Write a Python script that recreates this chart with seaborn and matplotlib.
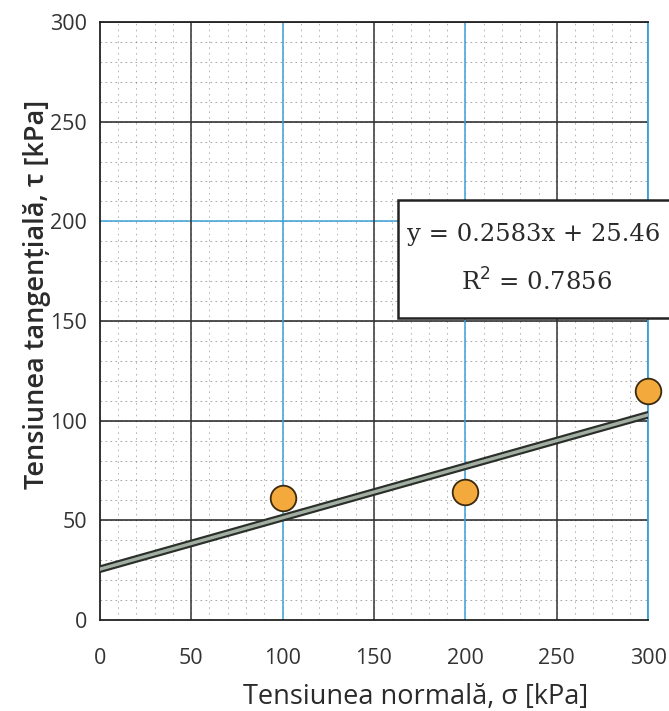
import numpy as np
import pandas as pd
import matplotlib
matplotlib.use("Agg")
import matplotlib.pyplot as plt
import matplotlib.patheffects as pe
from matplotlib.patches import Rectangle
import seaborn as sns

# ---- data ----
sigma = [100, 200, 300]          # normal stress [kPa]
tau = [61, 64, 115]              # shear stress [kPa]
slope = 0.2583
intercept = 25.46
r2 = 0.7856
x_ticks = [0, 50, 100, 150, 200, 250, 300]
y_ticks = [0, 50, 100, 150, 200, 250, 300]

sns.set_theme(style="white")
plt.rcParams['font.family'] = ['Open Sans', 'DejaVu Sans']

fig = plt.figure(figsize=(6.69, 7.11), dpi=100)
ax = fig.add_axes([0.149, 0.128, 0.82, 0.841])

# minor dotted grid (graph paper)
for v in np.arange(10, 300, 10):
    ax.axhline(v, color='#444444', lw=0.6, ls=(0, (2, 4)), alpha=0.55, zorder=0)
    ax.axvline(v, color='#444444', lw=0.6, ls=(0, (2, 5)), alpha=0.45, zorder=0)

# major grid
for v in y_ticks[1:]:
    c = '#3a9fd6' if v == 200 else '#222222'
    ax.axhline(v, color=c, lw=1.1, zorder=1)
for v in x_ticks[1:]:
    c = '#3a9fd6' if v in (100, 200, 300) else '#333333'
    ax.axvline(v, color=c, lw=1.1, zorder=1)

# trend line from equation
x_line = np.array([0, max(sigma)])
line_df = pd.DataFrame({'x': x_line, 'y': slope * x_line + intercept})
sns.lineplot(data=line_df, x='x', y='y', ax=ax, color='#a3aea3', lw=2.4, zorder=3,
             path_effects=[pe.Stroke(linewidth=5.5, foreground='#2a2f2a'), pe.Normal()])

# points
pts = pd.DataFrame({'sigma': sigma, 'tau': tau})
sns.scatterplot(data=pts, x='sigma', y='tau', ax=ax, s=340, color='#f4a93c',
                edgecolor='#3a2a10', linewidth=1.3, zorder=4, clip_on=False)

ax.set_xlim(0, 300)
ax.set_ylim(0, 300)
ax.set_xticks(x_ticks)
ax.set_yticks(y_ticks)
ax.tick_params(axis='x', length=0, pad=20, labelsize=15.5, labelcolor='#333333')
ax.tick_params(axis='y', length=0, pad=9, labelsize=15.5, labelcolor='#333333')
for s in ax.spines.values():
    s.set_color('#222222')
    s.set_linewidth(1.3)
ax.spines['right'].set_color('#3a9fd6')

ax.set_xlabel('Tensiunea normală, σ [kPa]', fontsize=19.5, color='#2a2a2a', labelpad=4)
ax.xaxis.set_label_coords(0.575, -0.105)
ax.set_ylabel('Tensiunea tangențială, τ [kPa]', fontsize=19.5, color='#2a2a2a',
              fontweight='semibold', labelpad=6)
ax.yaxis.set_label_coords(-0.088, 0.545)

# equation box
box = Rectangle((398 / 669, 1 - 318 / 711), 0.5, 118 / 711, transform=fig.transFigure,
                facecolor='white', edgecolor='#222222', lw=1.8, zorder=10)
fig.patches.append(box)
fig.text(534 / 669, 1 - 235 / 711, f'y = {slope:.4f}x + {intercept:.2f}',
         ha='center', va='center', fontsize=17.5, family='DejaVu Serif', color='#2a2a2a', zorder=11)
fig.text(537 / 669, 1 - 282 / 711, f'R$^2$ = {r2:.4f}',
         ha='center', va='center', fontsize=17.5, family='DejaVu Serif', color='#2a2a2a', zorder=11)

fig.savefig('out.png', dpi=100)
